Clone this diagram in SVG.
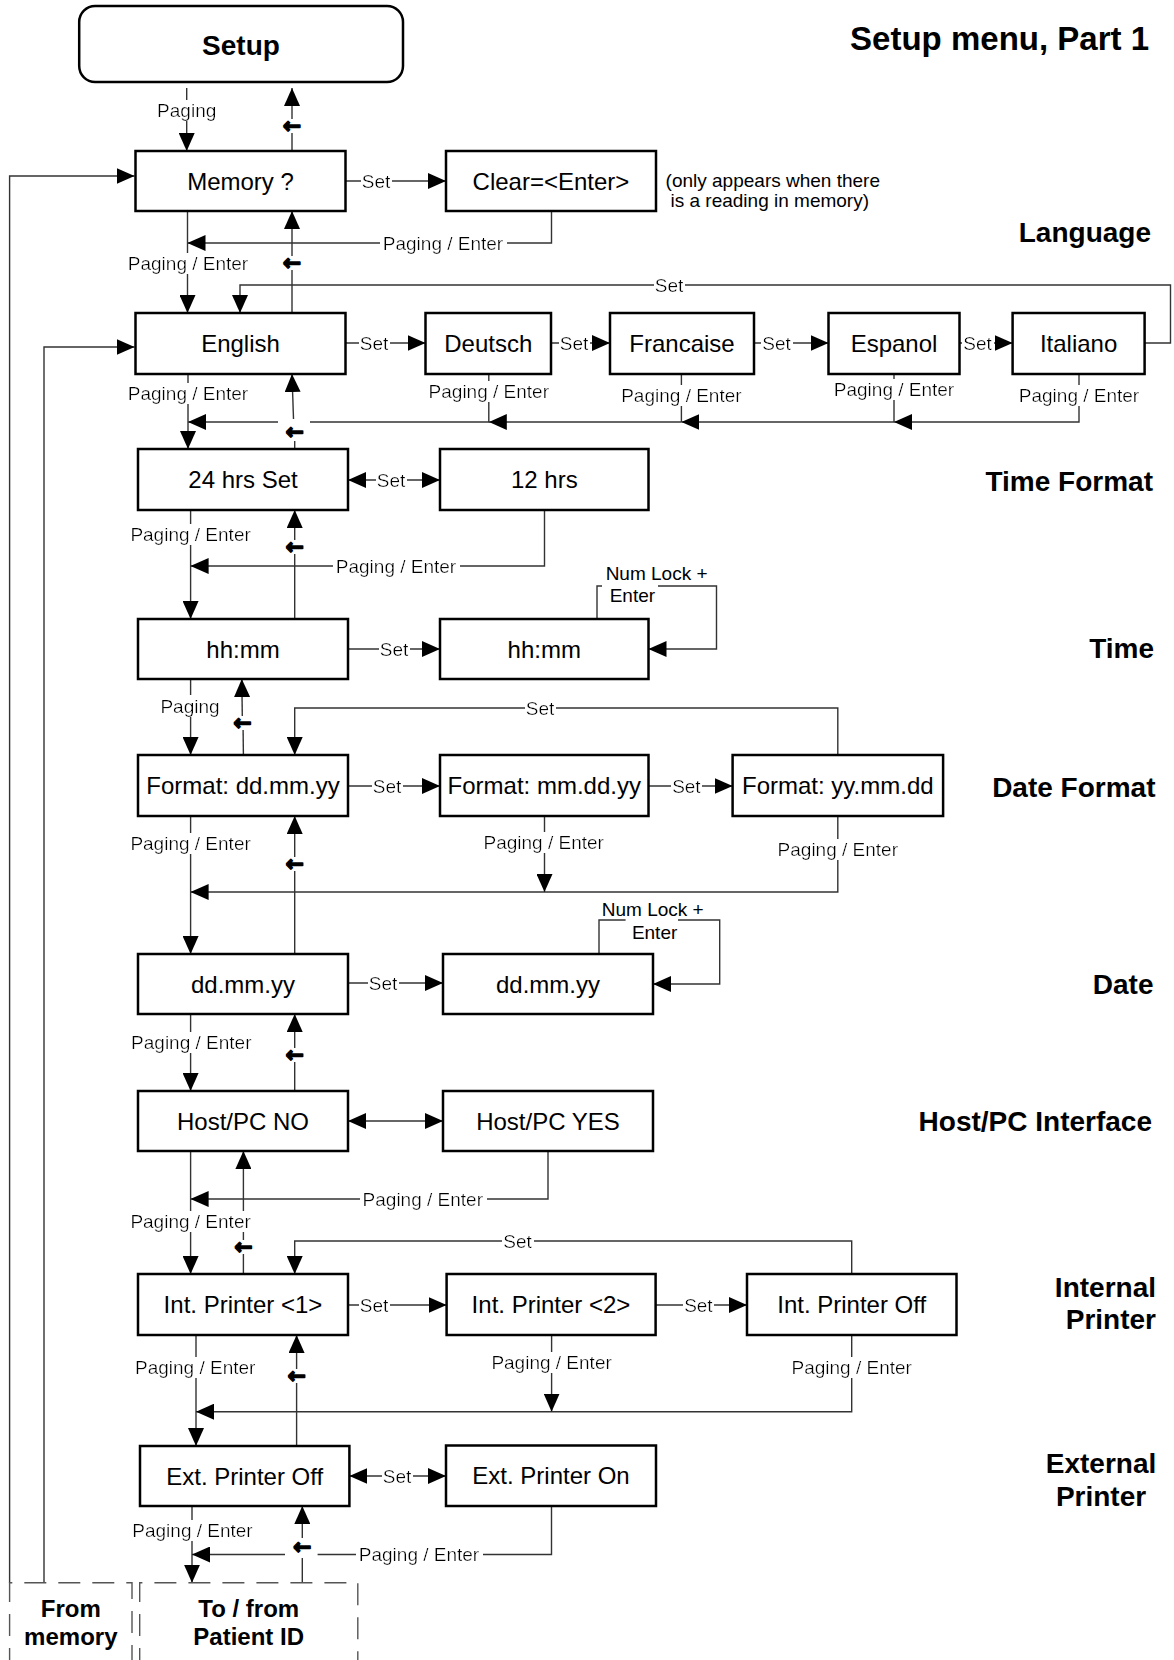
<svg xmlns="http://www.w3.org/2000/svg" width="1174" height="1660" viewBox="0 0 1174 1660">
<style>
.box{fill:#fff;stroke:#000;stroke-width:2.5}
.dash{fill:none;stroke:#555;stroke-width:1.4;stroke-dasharray:22 12}
.c{fill:none;stroke:#333;stroke-width:1.4}
.a{marker-end:url(#ah)}
.d{marker-start:url(#ah)}
.nt{font-family:"Liberation Sans",Arial,sans-serif;font-size:24px;text-anchor:middle;fill:#000}
.lb{font-family:"Liberation Sans",Arial,sans-serif;font-size:19px;text-anchor:middle;fill:#000;filter:url(#bg)}
.nl{font-family:"Liberation Sans",Arial,sans-serif;font-size:19px;text-anchor:middle;fill:#000}
.note{font-family:"Liberation Sans",Arial,sans-serif;font-size:19px;fill:#000}
.hd{font-family:"Liberation Sans",Arial,sans-serif;font-size:28px;font-weight:bold;text-anchor:end;fill:#000}
.bt{font-family:"Liberation Sans",Arial,sans-serif;font-size:24px;font-weight:bold;text-anchor:middle;fill:#000}
.bk{font-family:"DejaVu Sans",sans-serif;font-weight:bold;font-size:22px;text-anchor:middle;fill:#000;stroke:#000;stroke-width:1.4;stroke-linejoin:round}
</style>
<defs>
<marker id="ah" viewBox="0 0 18 16" refX="18" refY="8" markerWidth="18" markerHeight="16" markerUnits="userSpaceOnUse" orient="auto-start-reverse"><path d="M0,0L18,8L0,16z" fill="#000"/></marker>
<filter id="bg" x="-0.02" y="0" width="1.04" height="1"><feFlood flood-color="#fff"/><feComposite in="SourceGraphic" operator="over"/></filter>
</defs>
<rect width="1174" height="1660" fill="#fff"/>

<g id="connectors">
<path class="c a" d="M186.7,88V151"/>
<path class="c" d="M292,151V133"/>
<path class="c a" d="M292,119V88"/>
<path class="c a" d="M345.5,181H446"/>
<path class="c a" d="M551.5,211V243H187.5"/>
<path class="c a" d="M187.5,211V313"/>
<path class="c" d="M292,313V270"/>
<path class="c a" d="M292,256V211"/>
<path class="c a" d="M9.6,1583V176H134.5"/>
<path class="c a" d="M44,1583V347H134.5"/>
<path class="c a" d="M345.5,343H425.5"/>
<path class="c a" d="M551,343H610"/>
<path class="c a" d="M754,343H828.5"/>
<path class="c a" d="M959.3,343H1012.6"/>
<path class="c a" d="M1144.4,343H1170.5V285H240V313"/>
<path class="c a" d="M1079,374V422H894"/>
<path class="c" d="M894,374V422"/>
<path class="c a" d="M894,422H681.4"/>
<path class="c" d="M681.4,374V422"/>
<path class="c a" d="M681.4,422H488.8"/>
<path class="c" d="M488.8,374V422H310"/>
<path class="c a" d="M278,422H188"/>
<path class="c a" d="M188,374V449"/>
<path class="c" d="M294.7,449V441"/>
<path class="c a" d="M293.5,419L292,374"/>
<path class="c a d" d="M348,480H440"/>
<path class="c a" d="M190.6,510V619"/>
<path class="c" d="M294.7,619V554"/>
<path class="c a" d="M294.7,540V510"/>
<path class="c a" d="M544.5,510V566H190.6"/>
<path class="c a" d="M348,649H440"/>
<path class="c" d="M597,619V586H602"/>
<path class="c a" d="M658,586H716.5V649H648.5"/>
<path class="c a" d="M190.6,679V755"/>
<path class="c" d="M243.4,755L243.1,730"/>
<path class="c a" d="M242.3,716L241.8,679"/>
<path class="c a" d="M837.8,755V708H294.7V755"/>
<path class="c a" d="M348,786H440"/>
<path class="c a" d="M648.5,786H732.6"/>
<path class="c a" d="M190.6,816V954"/>
<path class="c" d="M294.7,954V871"/>
<path class="c a" d="M294.7,857V816"/>
<path class="c a" d="M837.8,816V892H190.6"/>
<path class="c a" d="M544.5,816V892"/>
<path class="c a" d="M348,983H443"/>
<path class="c" d="M599,954V920H625.6"/>
<path class="c a" d="M678,920H719.7V984H653"/>
<path class="c a" d="M190.6,1014V1091"/>
<path class="c" d="M294.7,1091V1062"/>
<path class="c a" d="M294.7,1048V1014"/>
<path class="c a d" d="M348,1121H443"/>
<path class="c a" d="M548,1151V1199H190.6"/>
<path class="c a" d="M190.6,1151V1274"/>
<path class="c" d="M243.4,1274V1254"/>
<path class="c a" d="M243.4,1240V1151"/>
<path class="c a" d="M851.7,1274V1241H294.7V1274"/>
<path class="c a" d="M348,1305H446.6"/>
<path class="c a" d="M655.5,1305H747"/>
<path class="c a" d="M196,1335V1446"/>
<path class="c" d="M296.6,1446V1383"/>
<path class="c a" d="M296.6,1369V1335"/>
<path class="c a" d="M851.7,1335V1411.7H196"/>
<path class="c a" d="M551.6,1335V1411.7"/>
<path class="c a d" d="M349.4,1476H446"/>
<path class="c a" d="M192,1506V1582.7"/>
<path class="c" d="M302.3,1582.7V1558"/>
<path class="c a" d="M302.3,1538V1506"/>
<path class="c" d="M551.5,1506V1554.5H317.6"/>
<path class="c a" d="M285,1554.5H192"/>

<text class="lb" x="186.7" y="117">Paging</text>
<text class="lb" x="376" y="187.5">Set</text>
<text class="lb" x="443" y="249.5">Paging / Enter</text>
<text class="lb" x="188" y="270">Paging / Enter</text>
<text class="lb" x="669" y="291.5">Set</text>
<text class="lb" x="374" y="349.5">Set</text>
<text class="lb" x="574" y="349.5">Set</text>
<text class="lb" x="776.6" y="349.5">Set</text>
<text class="lb" x="977.5" y="349.5">Set</text>
<text class="lb" x="188" y="400">Paging / Enter</text>
<text class="lb" x="488.8" y="398">Paging / Enter</text>
<text class="lb" x="681.4" y="402">Paging / Enter</text>
<text class="lb" x="894" y="396">Paging / Enter</text>
<text class="lb" x="1079" y="402">Paging / Enter</text>
<text class="lb" x="391" y="486.5">Set</text>
<text class="lb" x="190.6" y="541">Paging / Enter</text>
<text class="lb" x="396" y="572.5">Paging / Enter</text>
<text class="nl" x="656.6" y="580">Num Lock +</text>
<text class="nl" x="632.4" y="601.8">Enter</text>
<text class="lb" x="394" y="655.5">Set</text>
<text class="lb" x="190" y="712.5">Paging</text>
<text class="lb" x="540" y="714.5">Set</text>
<text class="lb" x="387" y="792.5">Set</text>
<text class="lb" x="686.4" y="792.5">Set</text>
<text class="lb" x="190.6" y="850">Paging / Enter</text>
<text class="lb" x="543.7" y="849">Paging / Enter</text>
<text class="lb" x="837.8" y="856">Paging / Enter</text>
<text class="nl" x="652.7" y="916">Num Lock +</text>
<text class="nl" x="654.6" y="938.5">Enter</text>
<text class="lb" x="383" y="989.5">Set</text>
<text class="lb" x="191.3" y="1049">Paging / Enter</text>
<text class="lb" x="422.8" y="1205.5">Paging / Enter</text>
<text class="lb" x="190.6" y="1228">Paging / Enter</text>
<text class="lb" x="517.6" y="1247.5">Set</text>
<text class="lb" x="374" y="1311.5">Set</text>
<text class="lb" x="698.4" y="1311.5">Set</text>
<text class="lb" x="195.2" y="1374">Paging / Enter</text>
<text class="lb" x="551.6" y="1369">Paging / Enter</text>
<text class="lb" x="851.7" y="1374">Paging / Enter</text>
<text class="lb" x="397" y="1482.5">Set</text>
<text class="lb" x="192.5" y="1537">Paging / Enter</text>
<text class="lb" x="419" y="1561">Paging / Enter</text>

<text class="bk" x="292" y="132.5">←</text>
<text class="bk" x="292" y="269.5">←</text>
<text class="bk" x="294.6" y="438.5">←</text>
<text class="bk" x="294.7" y="553.5">←</text>
<text class="bk" x="242.5" y="729.5">←</text>
<text class="bk" x="294.7" y="870.5">←</text>
<text class="bk" x="294.7" y="1061.5">←</text>
<text class="bk" x="243.4" y="1254">←</text>
<text class="bk" x="296.6" y="1382.5">←</text>
<text class="bk" x="302.3" y="1553.5">←</text>
</g>

<g id="n-setup"><rect class="box" x="79.2" y="6" width="323.8" height="76" rx="16"/><text x="241" y="55" font-family="Liberation Sans, Arial, sans-serif" font-size="28" font-weight="bold" text-anchor="middle">Setup</text></g>
<g id="n-memory"><rect class="box" x="135.5" y="151" width="210" height="60"/><text class="nt" x="240.5" y="189.6">Memory ?</text></g>
<g id="n-clear"><rect class="box" x="446" y="151" width="210" height="60"/><text class="nt" x="551" y="189.6">Clear=&lt;Enter&gt;</text></g>
<g id="n-note"><text class="note" x="665.6" y="187">(only appears when there</text><text class="note" x="670.5" y="207">is a reading in memory)</text></g>
<g id="n-english"><rect class="box" x="135.5" y="313" width="210" height="61"/><text class="nt" x="240.5" y="352">English</text></g>
<g id="n-deutsch"><rect class="box" x="425.5" y="313" width="125.5" height="61"/><text class="nt" x="488.3" y="352">Deutsch</text></g>
<g id="n-francaise"><rect class="box" x="610" y="313" width="144" height="61"/><text class="nt" x="682" y="352">Francaise</text></g>
<g id="n-espanol"><rect class="box" x="828.5" y="313" width="131" height="61"/><text class="nt" x="894" y="352">Espanol</text></g>
<g id="n-italiano"><rect class="box" x="1012.6" y="313" width="132" height="61"/><text class="nt" x="1078.6" y="352">Italiano</text></g>
<g id="n-24hrs"><rect class="box" x="138" y="449" width="210" height="61"/><text class="nt" x="243" y="488">24 hrs Set</text></g>
<g id="n-12hrs"><rect class="box" x="440" y="449" width="208.5" height="61"/><text class="nt" x="544.3" y="488">12 hrs</text></g>
<g id="n-time1"><rect class="box" x="138" y="619" width="210" height="60"/><text class="nt" x="243" y="657.6">hh:mm</text></g>
<g id="n-time2"><rect class="box" x="440" y="619" width="208.5" height="60"/><text class="nt" x="544.3" y="657.6">hh:mm</text></g>
<g id="n-fmt1"><rect class="box" x="138" y="755" width="210" height="61"/><text class="nt" x="243" y="794">Format: dd.mm.yy</text></g>
<g id="n-fmt2"><rect class="box" x="440" y="755" width="208.5" height="61"/><text class="nt" x="544.3" y="794">Format: mm.dd.yy</text></g>
<g id="n-fmt3"><rect class="box" x="732.6" y="755" width="210.5" height="61"/><text class="nt" x="837.8" y="794">Format: yy.mm.dd</text></g>
<g id="n-date1"><rect class="box" x="138" y="954" width="210" height="60"/><text class="nt" x="243" y="992.6">dd.mm.yy</text></g>
<g id="n-date2"><rect class="box" x="443" y="954" width="210" height="60"/><text class="nt" x="548" y="992.6">dd.mm.yy</text></g>
<g id="n-hostno"><rect class="box" x="138" y="1091" width="210" height="60"/><text class="nt" x="243" y="1129.6">Host/PC NO</text></g>
<g id="n-hostyes"><rect class="box" x="443" y="1091" width="210" height="60"/><text class="nt" x="548" y="1129.6">Host/PC YES</text></g>
<g id="n-int1"><rect class="box" x="138" y="1274" width="210" height="61"/><text class="nt" x="243" y="1313">Int. Printer &lt;1&gt;</text></g>
<g id="n-int2"><rect class="box" x="446.6" y="1274" width="209" height="61"/><text class="nt" x="551" y="1313">Int. Printer &lt;2&gt;</text></g>
<g id="n-intoff"><rect class="box" x="747" y="1274" width="209.5" height="61"/><text class="nt" x="851.7" y="1313">Int. Printer Off</text></g>
<g id="n-extoff"><rect class="box" x="140" y="1446" width="209.4" height="60"/><text class="nt" x="244.7" y="1484.6">Ext. Printer Off</text></g>
<g id="n-exton"><rect class="box" x="446" y="1445.5" width="210" height="60.5"/><text class="nt" x="551" y="1484.3">Ext. Printer On</text></g>
<g id="n-frommem"><path class="dash" d="M9.6,1670V1582.7H132V1670"/><text class="bt" x="70.8" y="1617">From</text><text class="bt" x="70.8" y="1645">memory</text></g>
<g id="n-patient"><path class="dash" d="M139.7,1670V1582.7H357.8V1670"/><text class="bt" x="248.7" y="1617">To / from</text><text class="bt" x="248.7" y="1645">Patient ID</text></g>

<g id="headers">
<text class="hd" x="1149" y="49.5" style="font-size:33px">Setup menu, Part 1</text>
<text class="hd" x="1151" y="242">Language</text>
<text class="hd" x="1153" y="491">Time Format</text>
<text class="hd" x="1154" y="658">Time</text>
<text class="hd" x="1155.5" y="796.5">Date Format</text>
<text class="hd" x="1153.5" y="994">Date</text>
<text class="hd" x="1152" y="1130.5">Host/PC Interface</text>
<text class="hd" x="1156" y="1296.5">Internal</text>
<text class="hd" x="1156" y="1329">Printer</text>
<text class="hd" x="1101" y="1473" style="text-anchor:middle">External</text>
<text class="hd" x="1101" y="1506" style="text-anchor:middle">Printer</text>
</g>
</svg>
